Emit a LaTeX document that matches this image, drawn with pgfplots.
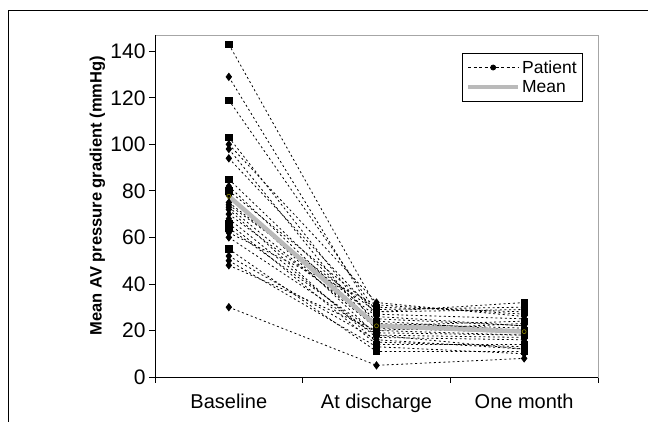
\documentclass[border=0pt]{standalone}
\usepackage{fontspec}
\setmainfont{Liberation Sans}
\usepackage{pgfplots}
\usepackage{pgfplotstable}
\pgfplotsset{compat=1.18}

% patients drawn with square markers
\pgfplotstableread{
x   p1  p2  p3  p4  p5  p6  p7  p8
0.5 143 119 103 85  80  66  64  55
1.5 30  28  22  24  29  14  19  11
2.5 28  32  24  20  30  14  18  11
}\sqdata
% patients drawn with diamond markers
\pgfplotstableread{
x   q1  q2  q3  q4  q5  q6  q7  q8  q9  q10 q11 q12 q13 q14 q15 q16 q17 q18
0.5 129 100 98  94  78  75  73  72  70  68  62  52  50  48  30  74  82  60
1.5 25  32  20  27  18  26  21  15  23  17  31  16  13  20  5   28  22  18
2.5 22  26  18  25  17  22  19  13  21  16  27  12  10  23  8   29  20  12
}\didata
\pgfplotstableread{
x   m
0.5 77.7
1.5 22
2.5 19.5
}\meandata

\begin{document}
\begin{tikzpicture}
\draw[line width=0.8pt] (-147pt,-60pt) rectangle (520pt,367pt);
\begin{axis}[
  at={(0,0)}, anchor=south west,
  scale only axis, width=443pt, height=342pt,
  xmin=0, xmax=3, ymin=0, ymax=147,
  xtick={0,1,2,3}, xticklabels={},
  extra x ticks={0.5,1.5,2.5},
  extra x tick labels={Baseline,At discharge,One month},
  extra x tick style={major tick length=0pt, tick label style={yshift=-13pt}},
  ytick={0,20,...,140},
  tick align=outside, xtick pos=bottom, ytick pos=left,
  major tick length=6pt,
  tick style={black, line width=0.8pt},
  axis line style={black!35, line width=0.8pt},
  x tick label style={font=\fontsize{20}{22}\selectfont},
  y tick label style={font=\fontsize{21}{24}\selectfont},
  /pgf/number format/assume math mode=true,
  ylabel={\textbf{Mean AV pressure gradient (mmHg)}},
  ylabel style={font=\fontsize{16.5}{19}\selectfont, at={(rel axis cs:-0.13,0.53)}, anchor=center},
  clip=false,
  legend cell align=left,
  legend style={at={(0.966,0.947)}, anchor=north east, draw=black, line width=0.6pt,
    font=\fontsize{17.5}{20}\selectfont, inner xsep=4pt, inner ysep=5pt, row sep=2pt},
  patient/.style={black, line width=0.8pt, dash pattern=on 2pt off 2.7pt, forget plot},
]
\pgfplotsinvokeforeach{1,...,8}{
  \addplot[patient, mark=square*, mark size=3.2pt, mark options={solid}] table[x=x, y=p#1]{\sqdata};
}
\pgfplotsinvokeforeach{1,...,18}{
  \addplot[patient, mark=diamond*, mark size=3.6pt, mark options={solid}] table[x=x, y=q#1]{\didata};
}
\addplot[black!27, line width=4.5pt, forget plot, mark=o, mark size=2pt,
  mark options={olive, line width=0.6pt}] table[x=x, y=m]{\meandata};
\addlegendimage{legend image code/.code={
  \draw[black, line width=0.8pt, dash pattern=on 3pt off 2.5pt] (0pt,0pt) -- (50pt,0pt);
  \fill[black] (25pt,0pt) circle (2.6pt);}}
\addlegendentry{Patient}
\addlegendimage{legend image code/.code={
  \draw[black!27, line width=4pt] (0pt,0pt) -- (50pt,0pt);}}
\addlegendentry{Mean}
\end{axis}
\draw[black, line width=0.9pt] (0pt,342pt) -- (0pt,0pt) -- (443pt,0pt);
\pgfresetboundingbox
\path[use as bounding box] (-155pt,-45pt) rectangle (493pt,377pt);
\end{tikzpicture}
\end{document}
